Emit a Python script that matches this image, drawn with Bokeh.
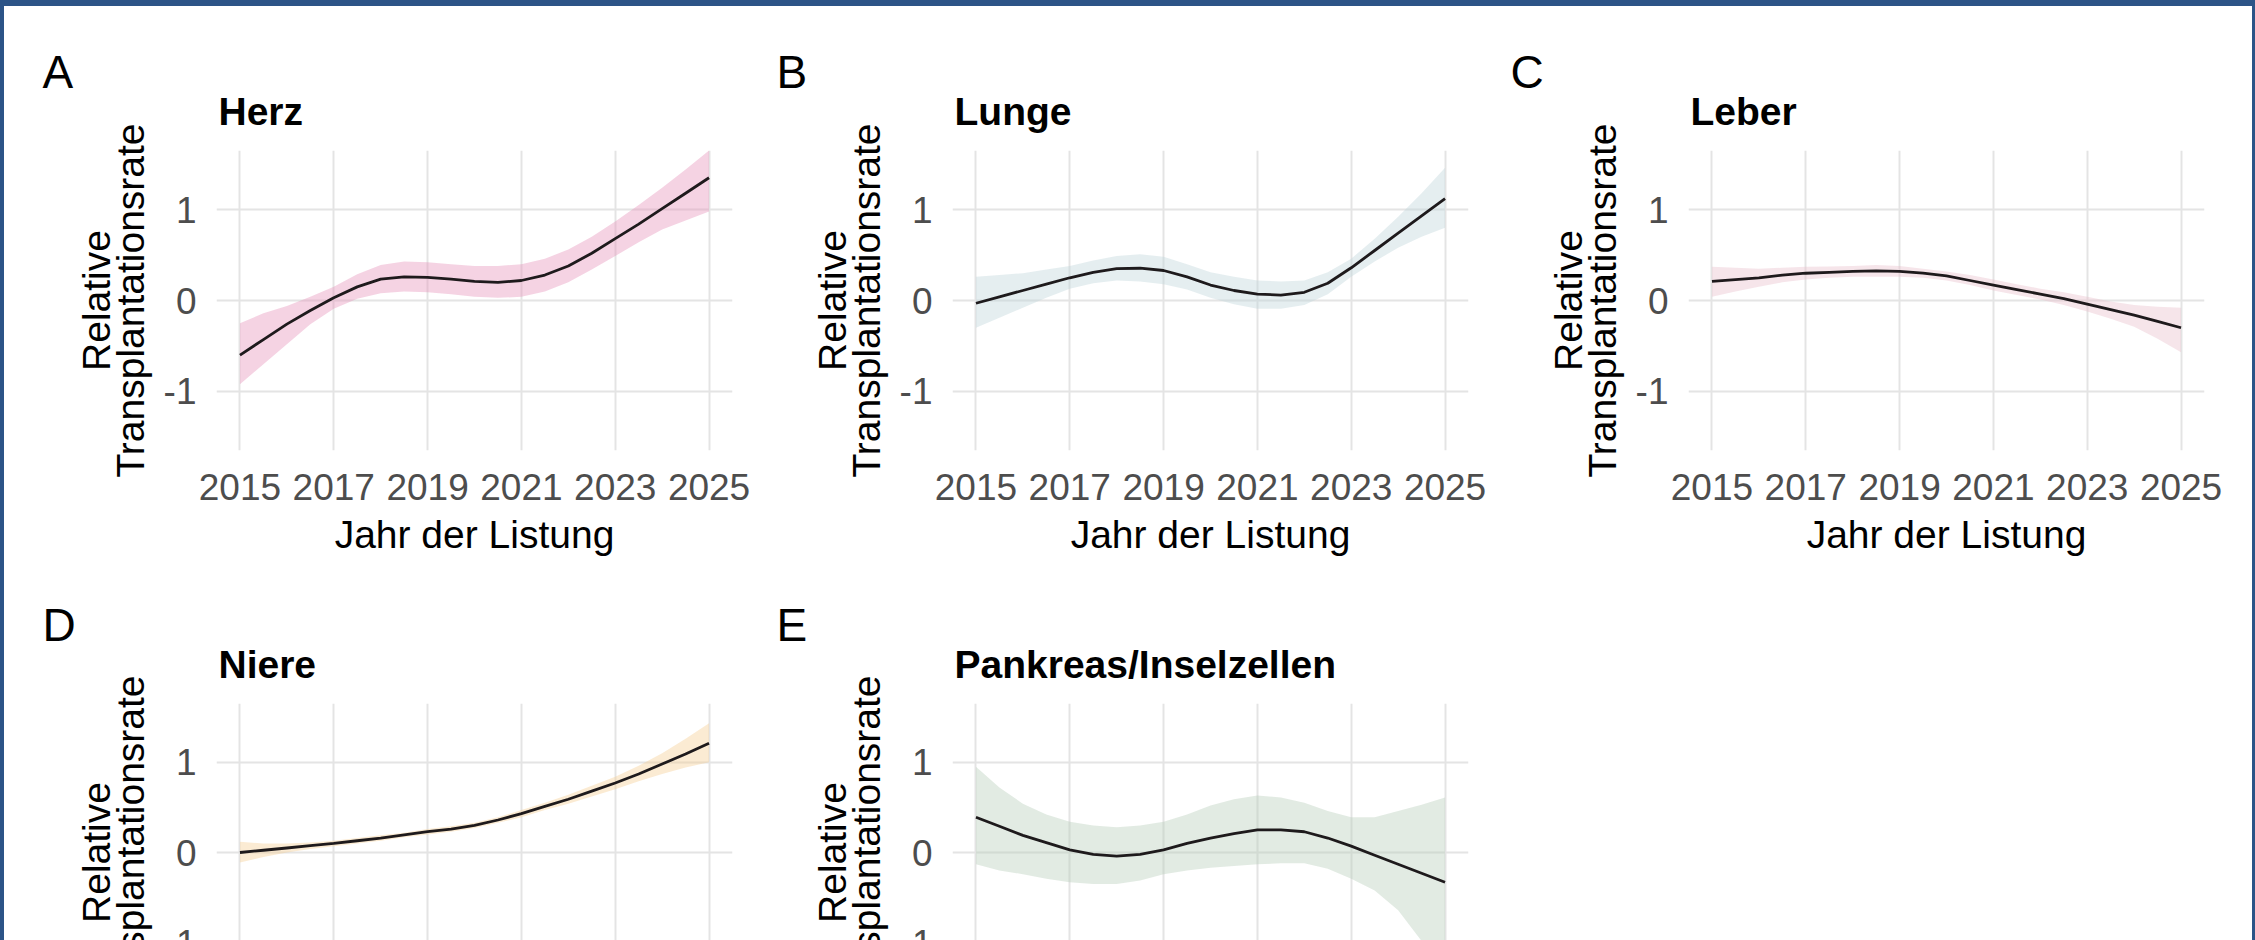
from bokeh.plotting import figure
from bokeh.layouts import row, column
from bokeh.models import Title, Spacer
from bokeh.embed import file_html
from bokeh.resources import INLINE

# ---------------- data ----------------
years = [2015.0, 2015.5, 2016.0, 2016.5, 2017.0, 2017.5, 2018.0, 2018.5, 2019.0, 2019.5,
         2020.0, 2020.5, 2021.0, 2021.5, 2022.0, 2022.5, 2023.0, 2023.5, 2024.0, 2024.5, 2025.0]

x_ticks = [2015, 2017, 2019, 2021, 2023, 2025]
y_ticks = [-1, 0, 1]
y_tick_labels = {-1: "-1", 0: "0", 1: "1"}

letters = ["A", "B", "C", "D", "E"]
organs = ["Herz", "Lunge", "Leber", "Niere", "Pankreas/Inselzellen"]

herz_fit = [-0.60, -0.43, -0.26, -0.11, 0.03, 0.15, 0.235, 0.26, 0.255, 0.235, 0.21,
            0.20, 0.22, 0.28, 0.38, 0.52, 0.68, 0.84, 1.01, 1.18, 1.35]
herz_hi = [-0.25, -0.14, -0.06, 0.04, 0.15, 0.29, 0.39, 0.43, 0.42, 0.40, 0.38,
           0.38, 0.40, 0.46, 0.56, 0.70, 0.87, 1.05, 1.24, 1.44, 1.65]
herz_lo = [-0.92, -0.70, -0.48, -0.26, -0.09, 0.02, 0.08, 0.10, 0.09, 0.07, 0.04,
           0.03, 0.04, 0.10, 0.20, 0.34, 0.49, 0.64, 0.78, 0.88, 0.98]

lunge_fit = [-0.03, 0.04, 0.11, 0.18, 0.25, 0.31, 0.35, 0.355, 0.33, 0.26, 0.17,
             0.11, 0.07, 0.06, 0.09, 0.19, 0.36, 0.55, 0.74, 0.93, 1.12]
lunge_hi = [0.26, 0.28, 0.30, 0.34, 0.38, 0.44, 0.49, 0.51, 0.48, 0.40, 0.31,
            0.26, 0.22, 0.21, 0.22, 0.31, 0.46, 0.68, 0.92, 1.18, 1.46]
lunge_lo = [-0.30, -0.19, -0.08, 0.03, 0.13, 0.19, 0.22, 0.21, 0.18, 0.12, 0.03,
            -0.04, -0.09, -0.09, -0.05, 0.07, 0.26, 0.43, 0.58, 0.70, 0.80]

leber_fit = [0.21, 0.23, 0.25, 0.28, 0.30, 0.31, 0.32, 0.325, 0.32, 0.30, 0.27,
             0.22, 0.17, 0.12, 0.07, 0.02, -0.04, -0.10, -0.16, -0.23, -0.30]
leber_hi = [0.37, 0.36, 0.35, 0.36, 0.37, 0.375, 0.38, 0.39, 0.38, 0.35, 0.32,
            0.28, 0.23, 0.18, 0.13, 0.09, 0.04, -0.01, -0.05, -0.07, -0.08]
leber_lo = [0.04, 0.10, 0.15, 0.20, 0.23, 0.25, 0.26, 0.26, 0.26, 0.25, 0.22,
            0.17, 0.11, 0.06, 0.01, -0.05, -0.12, -0.20, -0.29, -0.42, -0.57]

niere_fit = [0.00, 0.025, 0.05, 0.075, 0.10, 0.13, 0.16, 0.195, 0.23, 0.26, 0.30,
             0.36, 0.43, 0.51, 0.59, 0.68, 0.77, 0.87, 0.98, 1.09, 1.21]
niere_hi = [0.12, 0.10, 0.10, 0.11, 0.13, 0.16, 0.19, 0.22, 0.26, 0.29, 0.33,
            0.39, 0.47, 0.55, 0.64, 0.74, 0.84, 0.96, 1.10, 1.26, 1.43]
niere_lo = [-0.11, -0.05, 0.00, 0.04, 0.07, 0.10, 0.13, 0.17, 0.20, 0.23, 0.27,
            0.33, 0.39, 0.47, 0.54, 0.62, 0.70, 0.79, 0.87, 0.94, 1.00]

pankreas_fit = [0.39, 0.29, 0.19, 0.11, 0.03, -0.02, -0.04, -0.02, 0.03, 0.10, 0.16,
                0.21, 0.25, 0.25, 0.23, 0.16, 0.07, -0.03, -0.13, -0.23, -0.33]
pankreas_hi = [0.95, 0.72, 0.54, 0.42, 0.34, 0.30, 0.28, 0.30, 0.34, 0.42, 0.52,
               0.59, 0.63, 0.61, 0.55, 0.46, 0.39, 0.39, 0.46, 0.53, 0.61]
pankreas_lo = [-0.13, -0.20, -0.24, -0.29, -0.33, -0.35, -0.35, -0.31, -0.24, -0.20, -0.17,
               -0.15, -0.13, -0.12, -0.12, -0.18, -0.29, -0.42, -0.64, -0.98, -1.38]

band_colors = ["#E690B8", "#BED4D9", "#E8BECA", "#F5CD91", "#B6CDB9"]

# ---------------- style ----------------
FONT = "Liberation Sans"
BORDER = "#2C5487"
GRID = "#E4E4E4"
LINE = "#1E1A1C"

COL_LEFT = [212, 198, 198]
LETTER_OFFSET = [-174, -176, -178]
COL_RIGHT = 22
FRAME_W = 516
FRAME_H = 300
TOP = 144
ROW_H = [553, 550]


def make_panel(i, fit, lo, hi, band):
    col, rw = i % 3, i // 3
    width = COL_LEFT[col] + FRAME_W + COL_RIGHT
    height = ROW_H[rw]
    p = figure(width=width, height=height, x_range=(2014.5, 2025.5), y_range=(-1.65, 1.65),
               output_backend="svg", toolbar_location=None,
               min_border_left=COL_LEFT[col], min_border_right=COL_RIGHT,
               min_border_top=TOP, min_border_bottom=height - TOP - FRAME_H)
    p.outline_line_color = None
    p.background_fill_color = "white"
    p.border_fill_color = "white"

    # outer title: panel letter
    p.title.text = letters[i]
    p.title.text_font = FONT
    p.title.text_font_size = "46px"
    p.title.text_font_style = "normal"
    p.title.text_color = "black"
    p.title.align = "left"
    p.title.offset = LETTER_OFFSET[col]
    p.title.standoff = -54
    # inner title: organ name
    p.add_layout(Title(text=organs[i], text_font=FONT, text_font_size="39px",
                       text_font_style="bold", text_color="black",
                       align="left", offset=2, standoff=35), "above")

    p.xaxis.ticker = x_ticks
    p.yaxis.ticker = y_ticks
    p.yaxis.major_label_overrides = y_tick_labels
    p.xgrid.ticker = x_ticks
    p.ygrid.ticker = y_ticks
    for g in (p.xgrid, p.ygrid):
        g.grid_line_color = GRID
        g.grid_line_width = 2
    for ax in (p.xaxis, p.yaxis):
        ax.axis_line_color = None
        ax.major_tick_line_color = None
        ax.minor_tick_line_color = None
        ax.major_tick_out = 0
        ax.major_tick_in = 0
        ax.major_label_text_font = FONT
        ax.major_label_text_font_size = "37px"
        ax.major_label_text_color = "#4D4D4D"
        ax.axis_label_text_font = FONT
        ax.axis_label_text_font_size = "39px"
        ax.axis_label_text_font_style = "normal"
        ax.axis_label_text_color = "black"
    p.xaxis.axis_label = "Jahr der Listung"
    p.yaxis.axis_label = "Relative\nTransplantationsrate"
    p.yaxis.axis_label_text_line_height = 0.78
    p.xaxis.major_label_standoff = 23
    p.xaxis.axis_label_standoff = 10
    p.yaxis.major_label_standoff = 20
    p.yaxis.axis_label_standoff = 9

    p.varea(x=years, y1=lo, y2=hi, fill_color=band, fill_alpha=0.4)
    p.line(x=years, y=fit, line_color=LINE, line_width=2.8)
    return p


fits = [herz_fit, lunge_fit, leber_fit, niere_fit, pankreas_fit]
los = [herz_lo, lunge_lo, leber_lo, niere_lo, pankreas_lo]
his = [herz_hi, lunge_hi, leber_hi, niere_hi, pankreas_hi]

panels = [make_panel(i, fits[i], los[i], his[i], band_colors[i]) for i in range(5)]

inner = column(row(panels[0], panels[1], panels[2]), row(panels[3], panels[4]),
               width=2248, height=934,
               styles={"background-color": "white", "overflow": "hidden"})
root = column(Spacer(width=2255, height=6),
              row(Spacer(width=4, height=934), inner, Spacer(width=3, height=934)),
              width=2255, height=940,
              styles={"background-color": BORDER, "position": "absolute",
                      "left": "0px", "top": "0px"})

open("out.html", "w").write(file_html(root, INLINE))
